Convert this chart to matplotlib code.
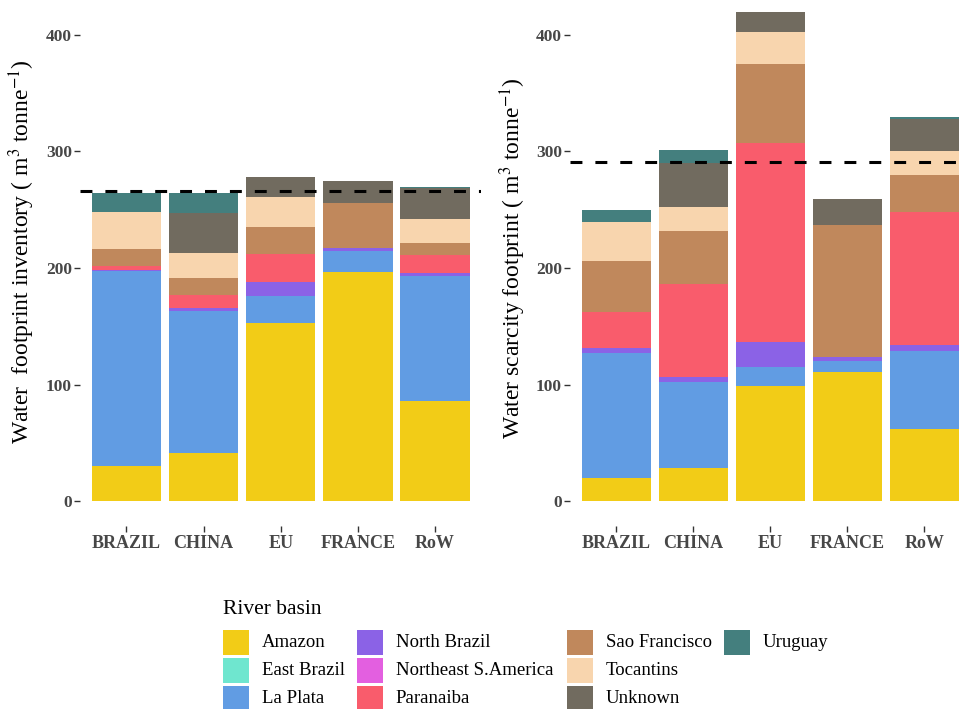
import matplotlib
matplotlib.use("Agg")
import matplotlib.pyplot as plt
from matplotlib.patches import Rectangle
import numpy as np

# ---- data -------------------------------------------------------------
countries = ["BRAZIL", "CHINA", "EU", "FRANCE", "RoW"]
basins = ["Amazon", "East Brazil", "La Plata", "North Brazil", "Northeast S.America",
          "Paranaiba", "Sao Francisco", "Tocantins", "Unknown", "Uruguay"]
basin_colors = ["#F2CC17", "#6FE6CF", "#619CE3", "#8B62E6", "#E35FE0",
                "#F95C6C", "#C0885C", "#F8D5AE", "#716B5F", "#447F7E"]

# water footprint inventory (m3 / tonne), per basin, per country
inv_amazon = [30.0, 41.5, 152.5, 196.8, 86.0]
inv_east_brazil = [0.0, 0.0, 0.0, 0.0, 0.0]
inv_la_plata = [167.2, 121.8, 23.5, 17.8, 107.1]
inv_north_brazil = [1.5, 2.1, 12.3, 2.6, 2.3]
inv_ne_s_america = [0.0, 0.0, 0.0, 0.0, 0.0]
inv_paranaiba = [3.3, 11.4, 23.7, 0.0, 15.8]
inv_sao_francisco = [14.0, 14.9, 23.0, 38.3, 10.5]
inv_tocantins = [32.0, 21.4, 26.2, 0.0, 20.1]
inv_unknown = [0.0, 33.9, 17.2, 19.5, 26.6]
inv_uruguay = [16.6, 17.6, 0.0, 0.0, 1.4]
inv_reference = 266.4

# water scarcity footprint (m3 / tonne), per basin, per country
wsf_amazon = [20.0, 28.6, 99.0, 110.7, 62.0]
wsf_east_brazil = [0.0, 0.0, 0.0, 0.0, 0.0]
wsf_la_plata = [107.3, 73.4, 16.3, 9.2, 67.0]
wsf_north_brazil = [4.0, 4.4, 20.9, 3.7, 5.2]
wsf_ne_s_america = [0.0, 0.0, 0.0, 0.0, 0.0]
wsf_paranaiba = [30.9, 79.9, 170.8, 0.0, 113.6]
wsf_sao_francisco = [43.8, 45.2, 68.1, 113.1, 32.3]
wsf_tocantins = [33.8, 21.1, 27.2, 0.0, 20.0]
wsf_unknown = [0.0, 37.8, 17.7, 22.3, 28.1]
wsf_uruguay = [9.7, 10.6, 0.0, 0.0, 1.2]
wsf_reference = 291.3

yticks = [0, 100, 200, 300, 400]

inventory = [inv_amazon, inv_east_brazil, inv_la_plata, inv_north_brazil, inv_ne_s_america,
             inv_paranaiba, inv_sao_francisco, inv_tocantins, inv_unknown, inv_uruguay]
scarcity = [wsf_amazon, wsf_east_brazil, wsf_la_plata, wsf_north_brazil, wsf_ne_s_america,
            wsf_paranaiba, wsf_sao_francisco, wsf_tocantins, wsf_unknown, wsf_uruguay]

# ---- style ------------------------------------------------------------
plt.rcParams["font.family"] = ["Liberation Serif", "DejaVu Serif"]
plt.rcParams["mathtext.fontset"] = "stix"

W, H = 960, 709
fig = plt.figure(figsize=(W / 100, H / 100), dpi=100)


def fx(px):
    return px / W


def fy(py):
    return 1 - py / H


def stacked_panel(left_px, right_px, series, ref, xlim):
    ax = fig.add_axes([fx(left_px), fy(525.5), fx(right_px - left_px), 525.5 / H])
    x = np.arange(1, len(countries) + 1)
    bottom = np.zeros(len(countries))
    for vals, col in zip(series, basin_colors):
        v = np.asarray(vals, dtype=float)
        ax.bar(x, v, width=0.9, bottom=bottom, color=col, linewidth=0)
        bottom += v
    ax.axhline(ref, color="black", lw=2.2, ls=(0, (3.9, 4.25)), zorder=5)
    ax.set_xlim(*xlim)
    ax.set_ylim(-21, 430)
    ax.set_xticks(x)
    ax.set_xticklabels(countries, fontsize=13, fontweight="bold")
    ax.set_yticks(yticks)
    ax.set_yticklabels([str(t) for t in yticks], fontsize=12.5, fontweight="bold")
    for s in ax.spines.values():
        s.set_visible(False)
    ax.tick_params(axis="both", length=4, width=1, color="#333333",
                   labelcolor="#474747", pad=2)
    ax.tick_params(axis="x", pad=3)
    return ax


stacked_panel(80.2, 481.3, inventory, inv_reference, (0.4, 5.6))
stacked_panel(570.2, 960, scarcity, wsf_reference, (0.4, 5.465))

fig.text(fx(22), fy(252), r"Water  footprint inventory ( m$^{3}$ tonne$^{-1}$)",
         rotation=90, ha="center", va="center", fontsize=17)
fig.text(fx(513), fy(258), r"Water scarcity footprint ( m$^{3}$ tonne$^{-1}$)",
         rotation=90, ha="center", va="center", fontsize=17)

# ---- legend -----------------------------------------------------------
fig.text(fx(223), fy(610), "River basin", ha="left", va="center", fontsize=15.5)
col_x = [223, 357, 567, 724]
row_top = [630, 658, 686]
key_w, key_h = 26, 25
for i, (name, col) in enumerate(zip(basins, basin_colors)):
    c, r = divmod(i, 3)
    x0, y0 = col_x[c], row_top[r]
    fig.add_artist(Rectangle((fx(x0), fy(y0 + key_h)), fx(key_w), key_h / H,
                             transform=fig.transFigure, facecolor=col, edgecolor="none"))
    fig.text(fx(x0 + key_w + 12.5), fy(y0 + key_h / 2), name,
             ha="left", va="center", fontsize=13.5)

fig.savefig("out.png", dpi=100)
